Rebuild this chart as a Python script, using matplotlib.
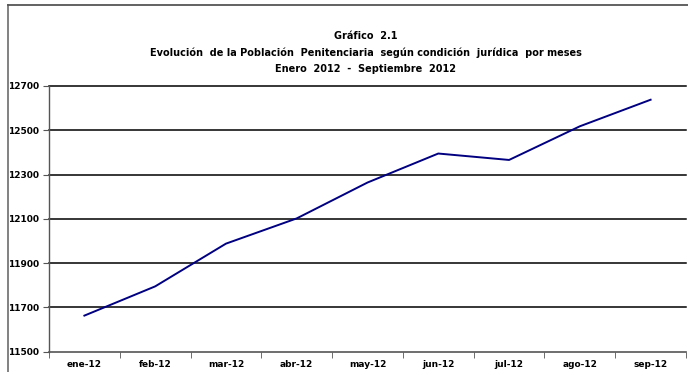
import matplotlib
matplotlib.use("Agg")
import matplotlib.pyplot as plt
from matplotlib.lines import Line2D
import numpy as np

meses = ["ene-12", "feb-12", "mar-12", "abr-12", "may-12",
         "jun-12", "jul-12", "ago-12", "sep-12"]
poblacion = [11663, 11795, 11988, 12102, 12264, 12395, 12366, 12518, 12638]
yticks = [11500, 11700, 11900, 12100, 12300, 12500, 12700]

titulo = ("Gráfico  2.1\n"
          "Evolución  de la Población  Penitenciaria  según condición  jurídica  por meses\n"
          "Enero  2012  -  Septiembre  2012")

plt.rcParams["font.family"] = ["Liberation Sans Narrow", "DejaVu Sans"]
plt.rcParams["font.weight"] = "bold"

fig = plt.figure(figsize=(6.88, 3.72), dpi=100)
ax = fig.add_axes([49 / 688, 1 - 351.7 / 372, (686 - 49) / 688, (351.7 - 86) / 372])

x = np.arange(len(meses))
ax.plot(x, poblacion, color="#000080", lw=1.4, zorder=3)

ax.set_xlim(-0.5, len(meses) - 0.5)
ax.set_ylim(11500, 12700)
ax.set_yticks(yticks)
ax.set_yticklabels([str(v) for v in yticks], fontsize=6.5)
for v in yticks[1:]:
    ax.axhline(v, color="black", lw=1.1, zorder=1, clip_on=False)

# etiquetas de mes centradas, marcas en los limites de cada categoria
ax.set_xticks(x)
ax.set_xticklabels(meses, fontsize=6.5)
ax.tick_params(axis="x", length=0, pad=6)
ax.set_xticks(np.arange(len(meses) + 1) - 0.5, minor=True)
ax.tick_params(axis="x", which="minor", length=4, color="#555555", direction="out")
ax.tick_params(axis="y", length=4, color="#555555", direction="out", pad=3)

for s in ["top", "right"]:
    ax.spines[s].set_visible(False)
ax.spines["left"].set_color("#555555")
ax.spines["bottom"].set_color("#555555")
ax.spines["left"].set_linewidth(1.0)
ax.spines["bottom"].set_linewidth(1.2)

fig.text(366 / 688, 1 - 52.5 / 372, titulo, ha="center", va="center",
         fontsize=7, fontweight="bold", linespacing=1.75)

# marco exterior del grafico
fig.add_artist(Line2D([8 / 688, 8 / 688], [0, 1 - 5 / 372], transform=fig.transFigure,
                      color="#777777", lw=1.3))
fig.add_artist(Line2D([8 / 688, 1], [1 - 5 / 372, 1 - 5 / 372], transform=fig.transFigure,
                      color="#555555", lw=1.3))

fig.savefig("out.png", dpi=100)
